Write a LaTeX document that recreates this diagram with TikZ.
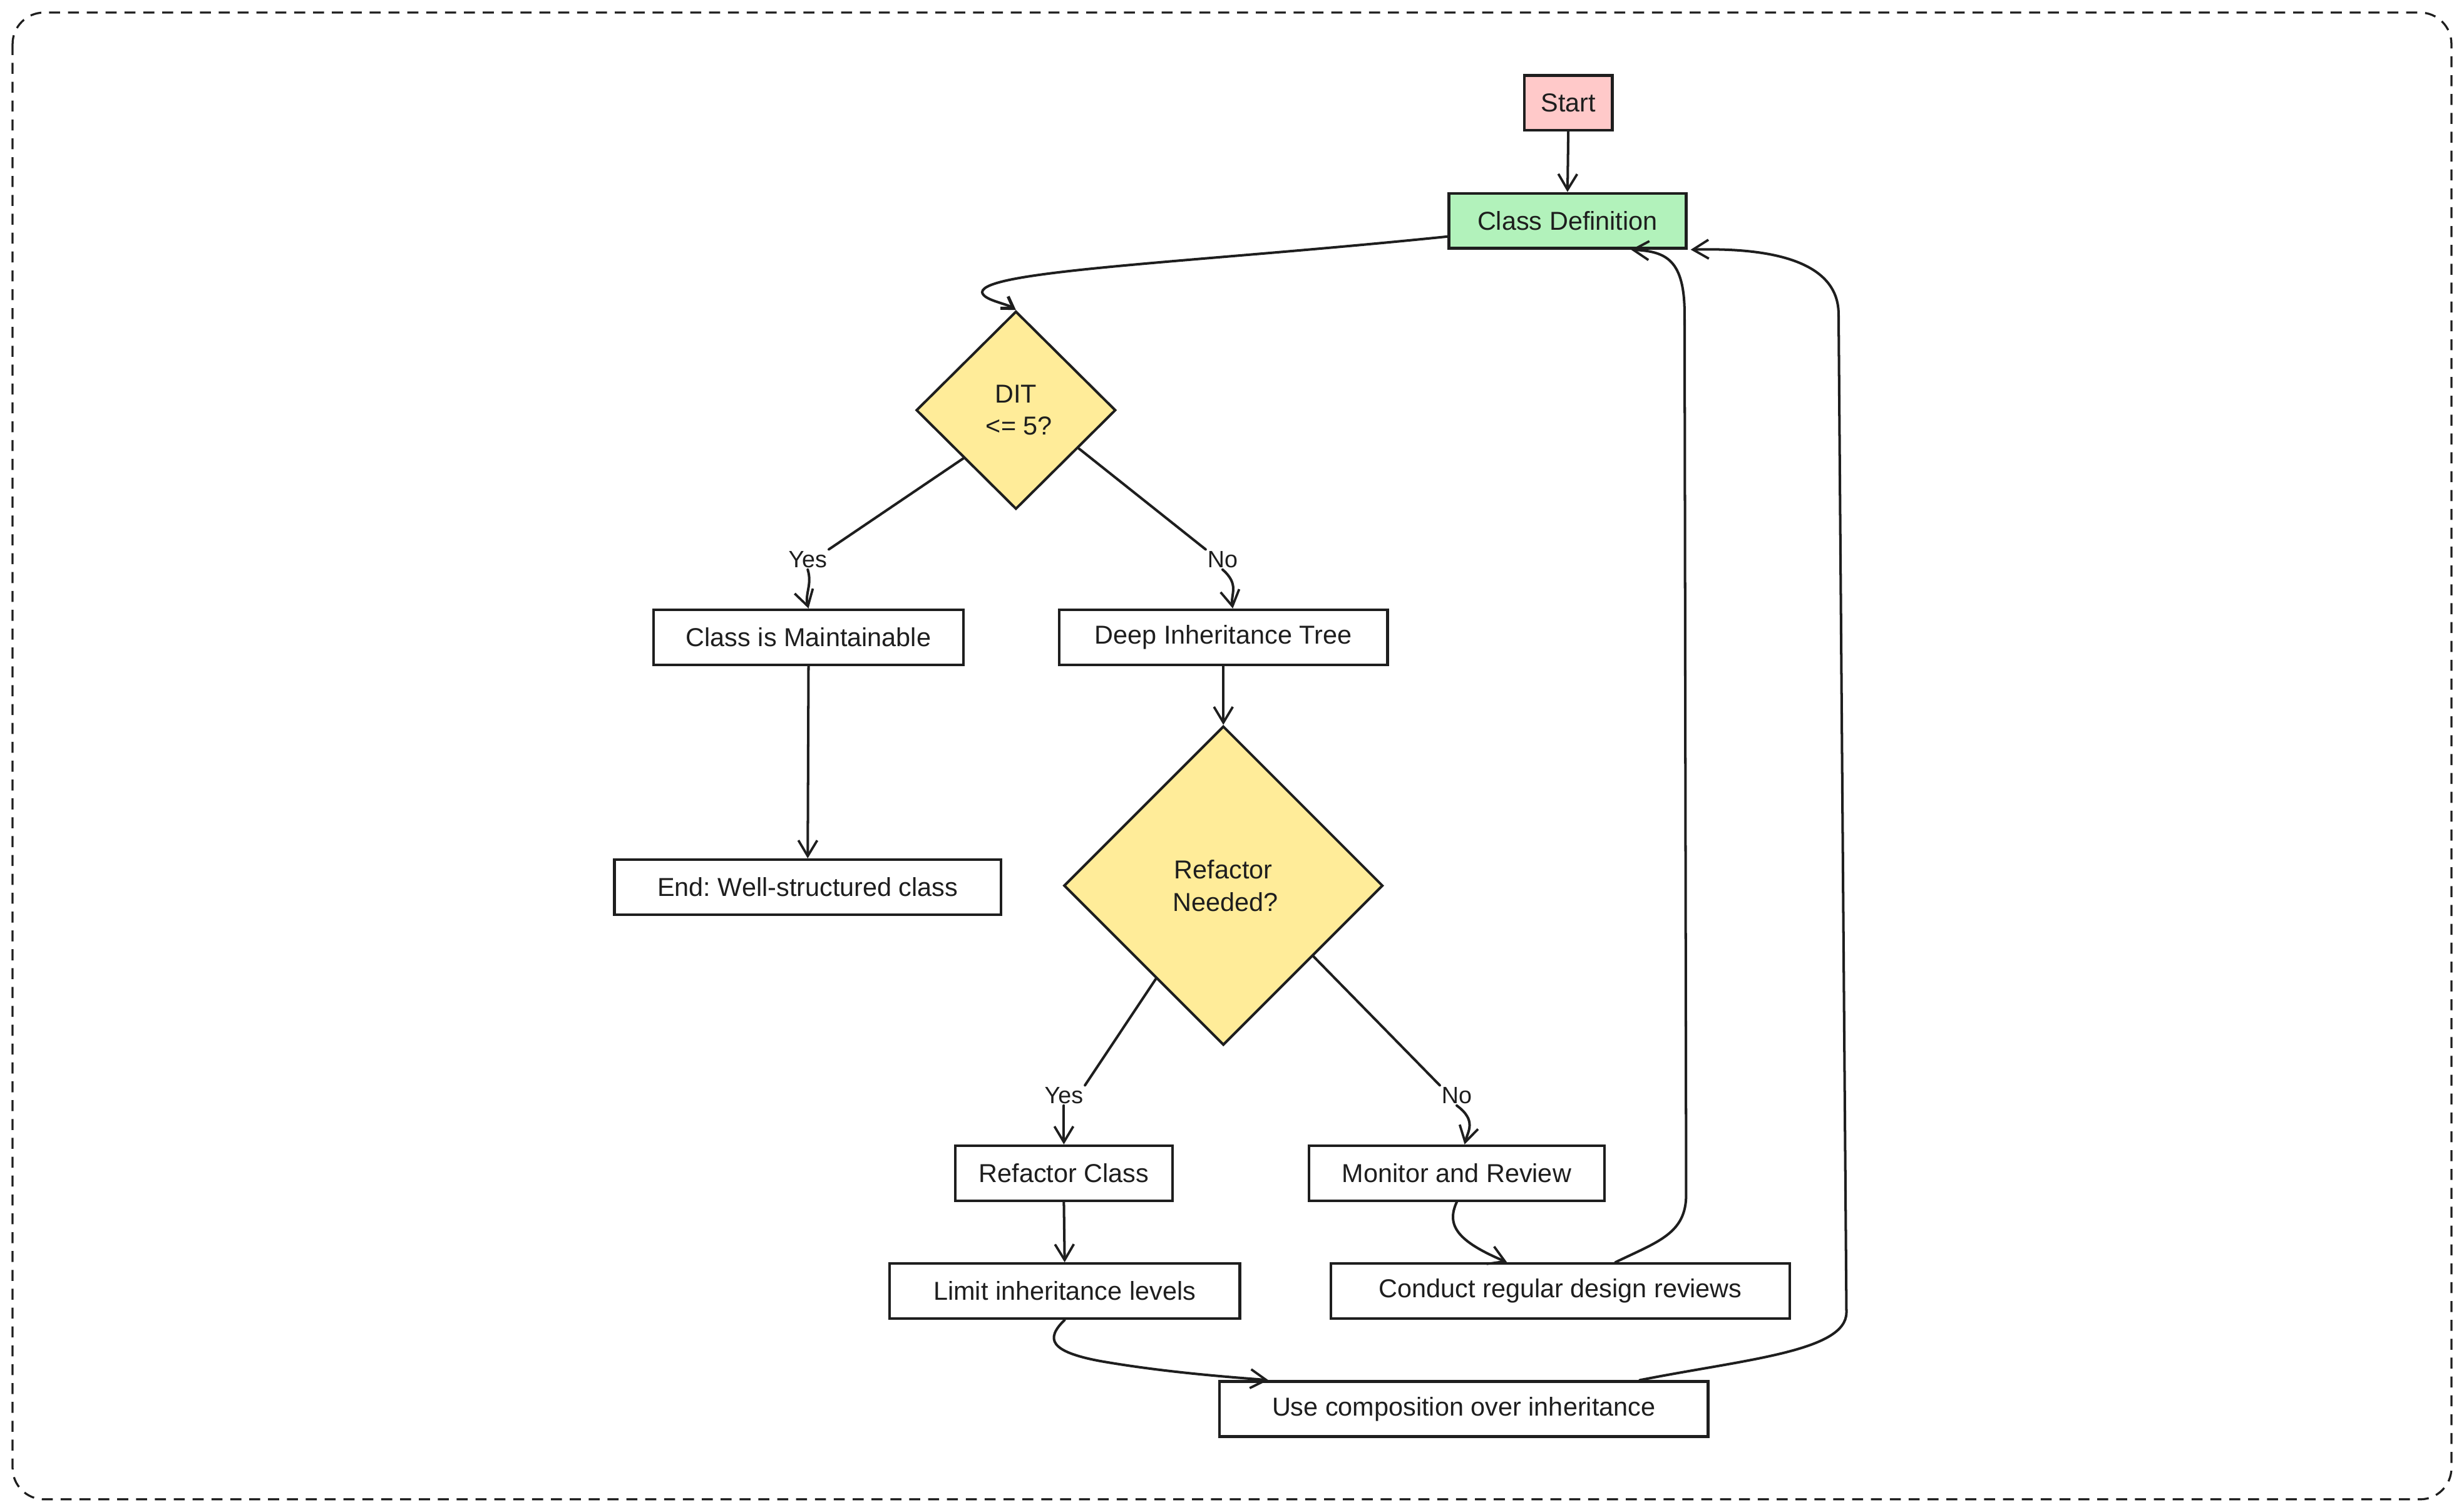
\documentclass[tikz,border=0pt]{standalone}
\usepackage{fontspec}
\setmainfont{Liberation Sans}
\frenchspacing
\usetikzlibrary{arrows.meta,shapes.geometric,calc}
\definecolor{ink}{HTML}{1E1E1E}
\definecolor{startfill}{HTML}{FFC9C9}
\definecolor{deffill}{HTML}{B2F2BB}
\definecolor{decfill}{HTML}{FFEC99}
\tikzset{
  box/.style={draw=ink, line width=1.7pt, fill=white, rectangle, inner sep=0pt,
    font=\fontsize{16.5}{19}\selectfont, text=ink, align=center},
  decision/.style={draw=ink, line width=1.6pt, fill=decfill, diamond, inner sep=0pt,
    font=\fontsize{16.5}{20.5}\selectfont, text=ink, align=center},
  lbl/.style={inner sep=1pt, font=\fontsize{15}{18}\selectfont, text=ink},
  conn/.style={draw=ink, line width=1.6pt, line cap=round, line join=round},
  arr/.style={conn, -{Straight Barb[length=10pt,width=12pt,line width=1.5pt]}},
}
\begin{document}
\begin{tikzpicture}[x=1pt,y=-1pt]
\useasboundingbox (0,0) rectangle (1568,962);
\draw[ink, line width=1.3pt, dash pattern=on 7pt off 5pt, rounded corners=20pt]
  (8,8) rectangle (1560,954);

% nodes
\node[box, fill=startfill, minimum width=56, minimum height=35] (start) at (998,65.5) {Start};
\node[box, fill=deffill, minimum width=151, minimum height=35] (cdef) at (997.5,140.5) {Class Definition};
\node[decision, minimum width=127, minimum height=126] (dit) at (646.5,261) {DIT\\\hspace*{4pt}<= 5?};
\node[lbl] (yes1) at (514,356) {Yes};
\node[lbl] (no1) at (778,356) {No};
\node[box, minimum width=197, minimum height=35] (cim) at (514.5,405.5) {Class is Maintainable};
\node[box, minimum width=209, minimum height=35] (deep) at (778.5,405.5) {Deep Inheritance Tree};
\node[box, minimum width=246, minimum height=35] (endn) at (514,564.5) {End: Well-structured class};
\node[decision, minimum width=203, minimum height=203] (refn) at (778.5,563.5) {Refactor\\\hspace*{3pt}Needed?};
\node[lbl] (yes2) at (677,697) {Yes};
\node[lbl] (no2) at (927,697) {No};
\node[box, minimum width=138, minimum height=35] (rc) at (677,746.5) {Refactor Class};
\node[box, minimum width=188, minimum height=35] (mon) at (927,746.5) {Monitor and Review};
\node[box, minimum width=223, minimum height=35] (lim) at (677.5,821.5) {Limit inheritance levels};
\node[box, minimum width=292, minimum height=35] (cond) at (993,821.5) {Conduct regular design reviews};
\node[box, minimum width=311, minimum height=35] (use) at (931.5,896.5) {Use composition over inheritance};

% connectors
\draw[arr] (start.south) -- (cdef.north);
\draw[conn, -{Straight Barb[length=7pt,width=9pt,line width=2pt]}]
  ([yshift=-10pt]cdef.west) .. controls (760,167) and (625,172) .. (625,186)
  .. controls (626,191) and (640,193) .. (dit.north);
\draw[conn] ($(dit.west)!0.48!(dit.south)$) -- (yes1.north east);
\draw[arr] (yes1.south) .. controls (517,372) and (512,378) .. (cim.north);
\draw[conn] ($(dit.east)!0.38!(dit.south)$) -- (no1.north west);
\draw[arr] (no1.south) .. controls (789,372) and (783,378) .. ([xshift=6pt]deep.north);
\draw[arr] (cim.south) -- (endn.north);
\draw[arr] (deep.south) -- (refn.north);
\draw[conn] ($(refn.west)!0.58!(refn.south)$) -- (yes2.north east);
\draw[arr] (yes2.south) -- (rc.north);
\draw[conn] ($(refn.east)!0.44!(refn.south)$) -- (no2.north west);
\draw[arr] (no2.south) .. controls (940,713) and (934,720) .. ([xshift=5pt]mon.north);
\draw[arr] (rc.south) -- (lim.north);
\draw[arr] (mon.south) .. controls (920,780) and (928,790) .. ([xshift=-34pt]cond.north);
\draw[arr] (lim.south) .. controls (665,852) and (668,860) .. (700,866)
  .. controls (740,873) and (780,876) .. ([xshift=32pt]use.north west);
\draw[arr] ([xshift=35pt]cond.north) .. controls (1055,790) and (1073,785) .. (1073,760)
  -- (1072,200) .. controls (1072,165) and (1060,160) .. ([xshift=-36pt]cdef.south east);
\draw[arr] ([xshift=112pt]use.north) .. controls (1110,865) and (1175,860) .. (1175,835)
  -- (1170,200) .. controls (1170,160) and (1110,158) .. ([xshift=2pt]cdef.south east);
\end{tikzpicture}
\end{document}
